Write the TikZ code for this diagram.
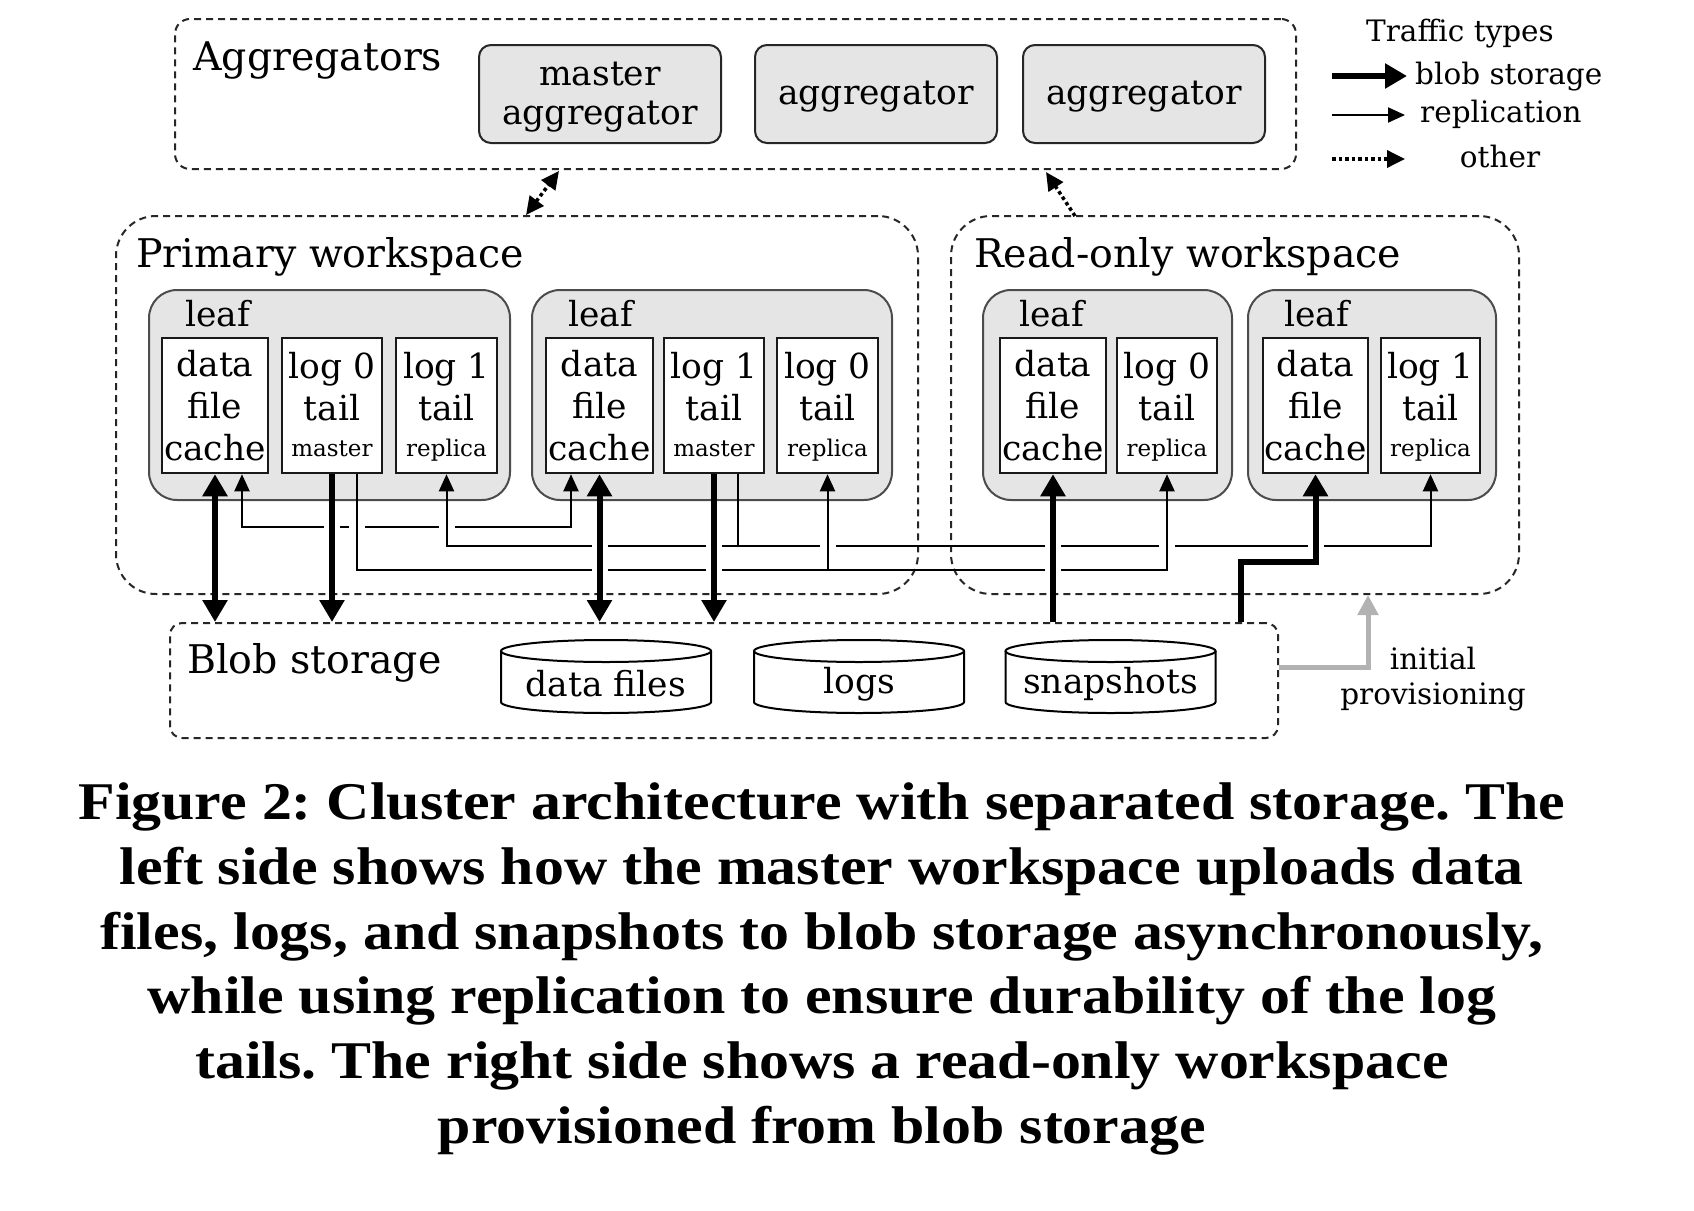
\documentclass[tikz,border=0pt]{standalone}
\usepackage{fontspec}
\setmainfont{DejaVu Serif}
\newfontfamily\capfam{Liberation Serif}[FakeStretch=1.13]
\usetikzlibrary{arrows.meta,calc}
\newcommand\hfont{\fontsize{39.5}{46}\selectfont}
\newcommand\bfont{\fontsize{34.5}{42}\selectfont}
\newcommand\sfont{\fontsize{23}{42}\selectfont}
\newcommand\lfont{\fontsize{29.5}{35}\selectfont}
\newcommand\low[1]{\raisebox{-3pt}[\height][\depth]{#1}}
\newcommand\gapat[3]{\fill[white] (#1-#3/2,#2-4) rectangle (#1+#3/2,#2+4);}
\newcommand\cyl[4]{%
  \draw[line width=2pt, fill=white] (#2-105,#3-33) -- (#2-105,#3+18)
     arc[start angle=180, end angle=0, x radius=105, y radius=11] -- (#2+105,#3-33);
  \draw[line width=2pt] (#2,#3-33) ellipse[x radius=105, y radius=11];
  \node[font=\bfont, inner sep=0pt] (#1) at (#2,#3) {#4};}
\begin{document}
\begin{tikzpicture}[x=1pt,y=-1pt,
  dashbox/.style={draw=black!85, line width=2pt, dash pattern=on 7pt off 5pt, rounded corners=#1, inner sep=0pt},
  aggbox/.style={draw=black!85, fill=gray!20, line width=2pt, rounded corners=12pt, minimum width=242pt, minimum height=98pt, align=center, font=\bfont, inner sep=0pt},
  leafbox/.style={draw=black!70, fill=gray!20, line width=2pt, rounded corners=28pt, minimum height=210pt, inner sep=0pt},
  cellbox/.style={draw=black!90, fill=white, line width=2.5pt, minimum height=135pt, inner sep=0pt, align=center, font=\bfont},
  headtext/.style={anchor=base west, font=\hfont, inner sep=0pt},
  leaflabel/.style={anchor=base west, font=\bfont, inner sep=0pt},
  thickarr/.style={line width=6pt, >={Triangle[length=22pt,width=24pt]}},
  thinarr/.style={line width=2pt, >={Triangle[length=17pt,width=15pt]}},
  otherarr/.style={line width=3.5pt, dash pattern=on 3.5pt off 3pt, >={Triangle[length=18pt,width=17pt]}},
  provarr/.style={line width=5pt, draw=black!30, >={Triangle[length=20pt,width=20pt]}, line join=miter},
  legendtext/.style={font=\lfont, inner sep=0pt},
  captext/.style={anchor=base, inner sep=0pt, font=\capfam\bfseries\fontsize{53}{60}\selectfont\frenchspacing}
]
\fill[white] (0,0) rectangle (1694,1210);
\useasboundingbox (0,0) rectangle (1694,1210);

% containers
\node[dashbox=15pt, minimum width=1121pt, minimum height=150pt] (agg) at (735.5,94) {};
\node[dashbox=40pt, minimum width=802pt, minimum height=378pt] (pw) at (517,405) {};
\node[dashbox=40pt, minimum width=568pt, minimum height=378pt] (ro) at (1235,405) {};
\node[dashbox=12pt, minimum width=1108pt, minimum height=115pt] (blob) at (724,680.5) {};

\node[headtext] (aggt) at ($(agg.north west)+(19,52)$) {Aggregators};
\node[headtext] (pwt) at ($(pw.north west)+(21,52)$) {Primary workspace};
\node[headtext] (rot) at ($(ro.north west)+(24,52)$) {Read-only workspace};
\node[headtext] (blobt) at ($(blob.north west)+(18,51)$) {Blob storage};

% aggregators
\node[aggbox] (magg) at (600,94) {\low{master}\\[-3pt]\low{aggregator}};
\node[aggbox] (agg2) at (876,94) {\low{aggregator}};
\node[aggbox] (agg3) at (1144,94) {\low{aggregator}};

% leaves
\node[leafbox, minimum width=361pt] (leaf1) at (329.5,395) {};
\node[leafbox, minimum width=360pt] (leaf2) at (712,395) {};
\node[leafbox, minimum width=249pt] (leaf3) at (1107.5,395) {};
\node[leafbox, minimum width=248pt] (leaf4) at (1372,395) {};
\foreach \l in {leaf1,leaf2,leaf3,leaf4}
  \node[leaflabel] (\l t) at ($(\l.north west)+(37,37)$) {leaf};

\node[cellbox, minimum width=106pt] (l1d) at (215,405.5) {data\\file\\cache};
\node[cellbox, minimum width=100pt] (l1a) at (332,405.5) {log 0\\tail\\[-9pt]\sfont\low{master}\vphantom{p}};
\node[cellbox, minimum width=101pt] (l1b) at (446.5,405.5) {log 1\\tail\\[-9pt]\sfont\low{replica}};
\node[cellbox, minimum width=107pt] (l2d) at (599.5,405.5) {data\\file\\cache};
\node[cellbox, minimum width=100pt] (l2a) at (714,405.5) {log 1\\tail\\[-9pt]\sfont\low{master}\vphantom{p}};
\node[cellbox, minimum width=101pt] (l2b) at (827.5,405.5) {log 0\\tail\\[-9pt]\sfont\low{replica}};
\node[cellbox, minimum width=106pt] (l3d) at (1053,405.5) {data\\file\\cache};
\node[cellbox, minimum width=100pt] (l3a) at (1167,405.5) {log 0\\tail\\[-9pt]\sfont\low{replica}};
\node[cellbox, minimum width=105pt] (l4d) at (1315.5,405.5) {data\\file\\cache};
\node[cellbox, minimum width=99pt] (l4a) at (1430.5,405.5) {log 1\\tail\\[-9pt]\sfont\low{replica}};

% storage cylinders
\cyl{dfiles}{606}{684}{data files}
\cyl{logs}{859}{684}{logs}
\cyl{snaps}{1110.5}{684}{snapshots}

% replication line A (data caches)
\draw[thinarr,<->] ($(l1d.south)+(27,0)$) -- ++(0,53) -| ($(l2d.south)+(-28.5,0)$);
\gapat{332}{526}{16}\gapat{357}{526}{16}\gapat{446.5}{526}{16}
% replication line B (log 1)
\draw[thinarr] ($(l2a.south)+(24,0)$) -- ++(0,72) coordinate (jB);
\draw[thinarr,->] (jB) -| (l1b.south);
\draw[thinarr,->] (jB) -| (l4a.south);
\gapat{599.5}{545}{16}\gapat{714}{545}{16}\gapat{827.5}{545}{16}
\gapat{1053}{545}{16}\gapat{1167}{545}{16}\gapat{1315.5}{545}{16}
% replication line C (log 0)
\draw[thinarr,->] ($(l1a.south)+(25,0)$) -- ++(0,96) coordinate (jC) -| (l3a.south);
\draw[thinarr,->] (jC -| l2b.south) -- (l2b.south);
\gapat{599.5}{569}{16}\gapat{714}{569}{16}\gapat{1053}{569}{16}

% blob storage traffic
\draw[thickarr,<->] (l1d.south) -- (l1d.south |- blob.north);
\draw[thickarr,->] (l1a.south) -- (l1a.south |- blob.north);
\draw[thickarr,<->] (l2d.south) -- (l2d.south |- blob.north);
\draw[thickarr,->] (l2a.south) -- (l2a.south |- blob.north);
\draw[thickarr,->] (l3d.south |- blob.north) -- (l3d.south);
\path (blob.north) ++(517,0) coordinate (s4);
\draw[thickarr,->,line join=miter] (s4) -- ++(0,-60) -| (l4d.south);

% other traffic
\coordinate (d1a) at (559,171);
\coordinate (d1b) at (526,215);
\draw[otherarr,<->] (d1b) -- (d1a);
\coordinate (d2a) at (1046,172);
\coordinate (d2b) at (1075,216);
\draw[otherarr,->] (d2b) -- (d2a);

% initial provisioning
\draw[provarr,->] ($(blob.east)+(0,-13)$) -| ($(ro.south)+(133,0)$);
\node[legendtext, align=center] (prov) at (1433,679) {initial\\provisioning};

% legend
\node[legendtext, anchor=base] (lgt) at (1460,41) {Traffic types};
\coordinate (lg1s) at (1332,76); \coordinate (lg1e) at (1407,76);
\draw[thickarr,->] (lg1s) -- (lg1e);
\node[legendtext, anchor=base west] (lg1) at (1415,84) {blob storage};
\coordinate (lg2s) at (1332,115); \coordinate (lg2e) at (1405,115);
\draw[thinarr,->] (lg2s) -- (lg2e);
\node[legendtext, anchor=base west] (lg2) at (1420,122) {replication};
\coordinate (lg3s) at (1332,159); \coordinate (lg3e) at (1405,159);
\draw[otherarr,->] (lg3s) -- (lg3e);
\node[legendtext, anchor=base] (lg3) at (1500,167) {other};

% caption
\node[captext] (c1) at (822,819) {Figure 2: Cluster architecture with separated storage. The};
\node[captext] (c2) at (822,884) {left side shows how the master workspace uploads data};
\node[captext] (c3) at (822,949) {files, logs, and snapshots to blob storage asynchronously,};
\node[captext] (c4) at (822,1013) {while using replication to ensure durability of the log};
\node[captext] (c5) at (822,1078) {tails. The right side shows a read-only workspace};
\node[captext] (c6) at (822,1143) {provisioned from blob storage};
\end{tikzpicture}
\end{document}
